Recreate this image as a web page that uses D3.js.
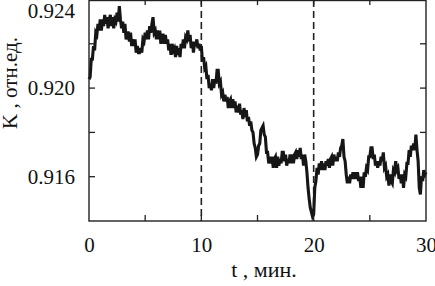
<!DOCTYPE html>
<html><head><meta charset="utf-8">
<script src="https://cdn.jsdelivr.net/npm/d3@7"></script>
</head>
<body style="margin:0;background:#fff">
<svg id="chart" width="435" height="286" style="display:block"></svg>
<script>
// sample step (minutes)
const tStep = 0.1;
// K values, one every 0.1 min from t = 0 to 30
const kValues = [
0.9204,0.9205,0.9213,0.9213,0.9219,0.9217,0.9225,0.9224,0.9229,0.9226,
0.9231,0.9226,0.9231,0.9228,0.9233,0.9229,0.9232,0.9227,0.9231,0.9233,
0.9228,0.9232,0.9227,0.9231,0.9230,0.9234,0.9230,0.9237,0.9231,0.9227,
0.9230,0.9225,0.9229,0.9222,0.9225,0.9225,0.9221,0.9225,0.9219,0.9222,
0.9219,0.9222,0.9216,0.9219,0.9216,0.9216,0.9218,0.9216,0.9222,0.9221,
0.9225,0.9222,0.9226,0.9222,0.9228,0.9225,0.9229,0.9232,0.9225,0.9226,
0.9222,0.9226,0.9222,0.9226,0.9220,0.9224,0.9224,0.9220,0.9224,0.9220,
0.9222,0.9217,0.9220,0.9215,0.9220,0.9217,0.9218,0.9214,0.9219,0.9215,
0.9218,0.9214,0.9220,0.9218,0.9222,0.9218,0.9223,0.9222,0.9226,0.9221,
0.9224,0.9218,0.9221,0.9216,0.9221,0.9219,0.9222,0.9218,0.9220,0.9217,
0.9219,0.9212,0.9214,0.9209,0.9210,0.9204,0.9206,0.9200,0.9202,0.9199,
0.9204,0.9200,0.9204,0.9202,0.9208,0.9208,0.9202,0.9203,0.9197,0.9198,
0.9194,0.9197,0.9194,0.9196,0.9191,0.9194,0.9195,0.9191,0.9195,0.9191,
0.9194,0.9189,0.9192,0.9189,0.9193,0.9188,0.9190,0.9186,0.9191,0.9187,
0.9190,0.9185,0.9187,0.9183,0.9185,0.9181,0.9180,0.9175,0.9173,0.9169,
0.9170,0.9174,0.9175,0.9181,0.9182,0.9183,0.9179,0.9178,0.9171,0.9171,
0.9166,0.9169,0.9166,0.9169,0.9164,0.9168,0.9169,0.9164,0.9169,0.9165,
0.9168,0.9166,0.9171,0.9171,0.9167,0.9170,0.9165,0.9168,0.9166,0.9170,
0.9166,0.9170,0.9166,0.9170,0.9171,0.9168,0.9172,0.9169,0.9173,0.9168,
0.9170,0.9165,0.9170,0.9167,0.9162,0.9155,0.9150,0.9146,0.9144,0.9142,
0.9143,0.9155,0.9158,0.9164,0.9161,0.9166,0.9163,0.9167,0.9163,0.9166,
0.9163,0.9167,0.9165,0.9168,0.9164,0.9168,0.9169,0.9165,0.9170,0.9167,
0.9169,0.9167,0.9171,0.9169,0.9173,0.9174,0.9177,0.9169,0.9167,0.9161,
0.9157,0.9160,0.9157,0.9161,0.9159,0.9162,0.9159,0.9162,0.9159,0.9162,
0.9158,0.9160,0.9155,0.9160,0.9155,0.9162,0.9160,0.9164,0.9163,0.9169,
0.9169,0.9173,0.9173,0.9168,0.9170,0.9165,0.9167,0.9164,0.9167,0.9165,
0.9169,0.9167,0.9171,0.9164,0.9165,0.9160,0.9161,0.9156,0.9161,0.9158,
0.9157,0.9163,0.9162,0.9167,0.9163,0.9164,0.9159,0.9161,0.9157,0.9161,
0.9155,0.9161,0.9160,0.9166,0.9166,0.9172,0.9169,0.9174,0.9172,0.9175,
0.9172,0.9179,0.9172,0.9167,0.9155,0.9152,0.9160,0.9158,0.9163,0.9161,
0.9162
];
const xTicks = [0, 10, 20, 30];
const xMinorTicks = [5, 15, 25];
const yTicks = [0.916, 0.920, 0.924];
const yMinorTicks = [0.918, 0.922];
const markerTimes = [10, 20];
const xLabel = "t , мин.";
const yLabel = "K , отн.ед.";

const FONT = "'Liberation Serif', 'Times New Roman', 'DejaVu Serif', serif";
const svg = d3.select("#chart");
const L = 89, R = 426, T = 0, B = 221;
const x = d3.scaleLinear().domain([0, 30]).range([L, R]);
const y = d3.scaleLinear().domain([0.914, 0.924]).range([B, -0.5]);

const data = kValues.map((v, i) => ({t: i * tStep, v}));

// dashed markers
svg.selectAll("line.marker").data(markerTimes).enter().append("line")
  .attr("class","marker")
  .attr("x1", d => x(d)).attr("x2", d => x(d))
  .attr("y1", T).attr("y2", B)
  .attr("stroke", "#222").attr("stroke-width", 1.6)
  .attr("stroke-dasharray", "7,4");

// series
svg.append("path").datum(data)
  .attr("fill","none").attr("stroke","#161616").attr("stroke-width",3.1)
  .attr("stroke-linejoin","miter")
  .attr("d", d3.line().x(d => x(d.t)).y(d => y(d.v)));

// frame
svg.append("rect").attr("x", L).attr("y", T + 0.5).attr("width", R - L).attr("height", B - T - 0.5)
  .attr("fill","none").attr("stroke","#222").attr("stroke-width",1.4);

const allX = xTicks.concat(xMinorTicks);
const allY = yTicks.concat(yMinorTicks);

// axes
const gB = svg.append("g").attr("transform", `translate(0,${B})`)
  .call(d3.axisBottom(x).tickValues(xTicks).tickSize(0).tickPadding(12).tickFormat(d3.format("d")));
const gL = svg.append("g").attr("transform", `translate(${L},0)`)
  .call(d3.axisLeft(y).tickValues(yTicks).tickSize(0).tickPadding(14).tickFormat(d3.format(".3f")));
[gB, gL].forEach(g => {
  g.attr("font-family", FONT).attr("font-size", 21);
  g.select(".domain").remove();
  g.selectAll("text").attr("font-family", FONT).style("font-family", FONT).style("font-size","21px").attr("fill","#111");
});
gB.selectAll("text").attr("dy","0.9em");
gL.selectAll(".tick").each(function(d){
  const ty = y(d);
  if (ty < 12) d3.select(this).select("text").attr("y", 11 - ty);
});

// inward ticks on all sides
const tickLen = 6;
svg.selectAll("line.bt").data(allX.filter(d => d > 0 && d < 30)).enter().append("line")
  .attr("x1", d => x(d)).attr("x2", d => x(d)).attr("y1", B).attr("y2", B - tickLen)
  .attr("stroke","#222").attr("stroke-width",1.3);
svg.selectAll("line.tt").data(allX.filter(d => d > 0 && d < 30)).enter().append("line")
  .attr("x1", d => x(d)).attr("x2", d => x(d)).attr("y1", T).attr("y2", T + tickLen - 1)
  .attr("stroke","#222").attr("stroke-width",1.3);
svg.selectAll("line.lt").data(allY.filter(d => d < 0.924)).enter().append("line")
  .attr("x1", L).attr("x2", L + tickLen).attr("y1", d => y(d)).attr("y2", d => y(d))
  .attr("stroke","#222").attr("stroke-width",1.3);
svg.selectAll("line.rt").data(allY.filter(d => d < 0.924)).enter().append("line")
  .attr("x1", R).attr("x2", R - tickLen).attr("y1", d => y(d)).attr("y2", d => y(d))
  .attr("stroke","#222").attr("stroke-width",1.3);

// axis titles
svg.append("text").attr("x", 264).attr("y", 277).attr("text-anchor","middle")
  .attr("font-family", FONT).style("font-family", FONT).attr("fill","#111")
  .style("font-size","22px").text(xLabel);
svg.append("text").attr("transform","translate(17,83) rotate(-90)").attr("text-anchor","middle")
  .attr("font-family", FONT).style("font-family", FONT).attr("fill","#111")
  .style("font-size","21px").text(yLabel);
</script>
</body></html>
